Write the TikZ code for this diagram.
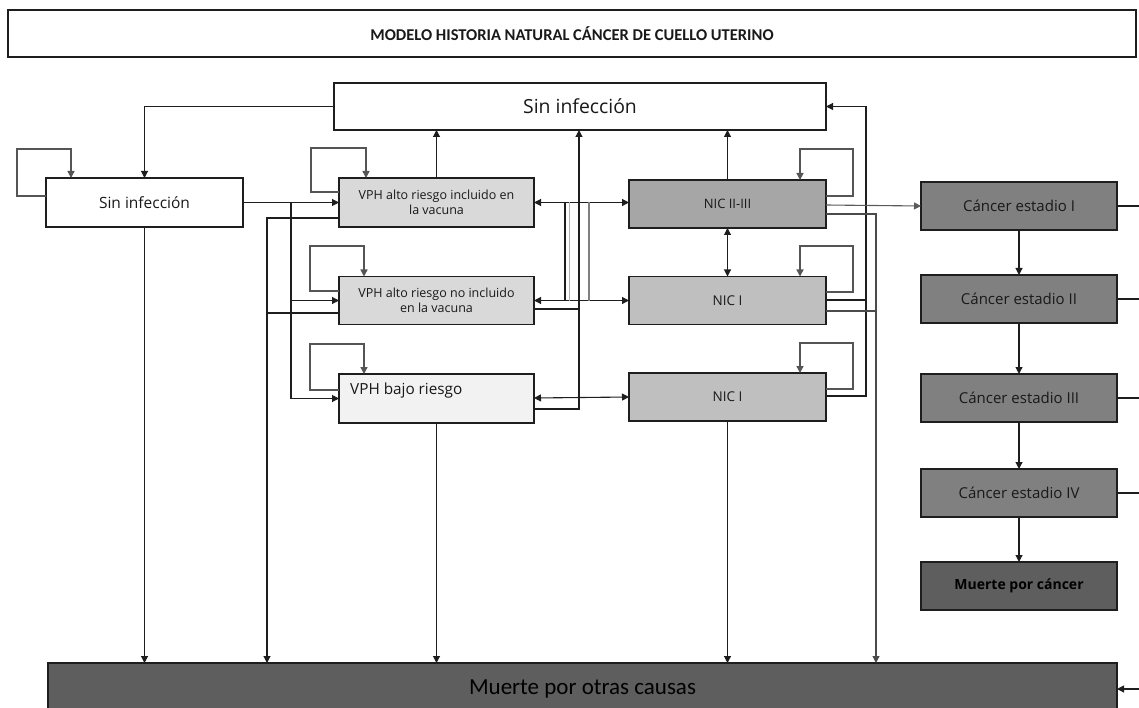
\documentclass[tikz,border=0pt]{standalone}
\usepackage{fontspec}
\setmainfont{Open Sans}
\newfontfamily\carlito{Carlito}
\usetikzlibrary{arrows.meta,calc}
\definecolor{lc}{HTML}{1E1E1E}
\definecolor{lpc}{HTML}{555555}
\definecolor{lgc}{HTML}{808080}
\definecolor{vphc}{HTML}{D9D9D9}
\definecolor{vphbc}{HTML}{F2F2F2}
\definecolor{nictc}{HTML}{A6A6A6}
\definecolor{nicoc}{HTML}{BFBFBF}
\definecolor{cc}{HTML}{808080}
\definecolor{mcc}{HTML}{5E5E5E}
\definecolor{moc}{HTML}{5E5E5E}
\tikzset{
  bx/.style={draw=lc, line width=1.2pt, inner sep=0pt, outer sep=0pt, minimum height=48pt, align=center, text=black!90},
  ln/.style={draw=lc, line width=1.1pt},
  arr/.style={ln, -{Triangle[length=7pt,width=7pt]}},
  arrr/.style={ln, {Triangle[length=7pt,width=7pt]}-{Triangle[length=7pt,width=7pt]}},
  lp/.style={draw=lpc, line width=1.4pt},
  lpa/.style={lp, -{Triangle[length=7pt,width=7pt]}},
}
\begin{document}
\begin{tikzpicture}[x=1pt,y=-1pt]
\useasboundingbox (0,0) rectangle (1139,708);
\clip (0,0) rectangle (1139,708);

% nodes
\node[bx, line width=1.5pt, minimum width=1128pt, minimum height=47pt, font=\carlito\bfseries\fontsize{16.5}{19}\selectfont] (title) at (572,33.5) {MODELO HISTORIA NATURAL CÁNCER DE CUELLO UTERINO};
\node[bx, minimum width=492pt, minimum height=47pt, font=\fontsize{19.4}{22}\selectfont] (top) at (580,106.5) {Sin infección};
\node[bx, minimum width=197pt, minimum height=49pt, font=\fontsize{15.5}{18}\selectfont] (lsin) at (144.5,202.5) {Sin infección};
\node[bx, fill=vphc, minimum width=195pt, minimum height=49pt, font=\fontsize{12.5}{15}\selectfont] (vph1) at (436.5,202.5) {VPH alto riesgo incluido en\\la vacuna};
\node[bx, fill=vphc, minimum width=195pt, font=\fontsize{12.5}{15}\selectfont] (vph2) at (436.5,300.5) {VPH alto riesgo no incluido\\en la vacuna};
\node[bx, fill=vphbc, minimum width=195pt, minimum height=49pt] (vphb) at (436.5,398.5) {};
\node[anchor=west, inner sep=0pt, text=black!90, font=\fontsize{15.3}{18}\selectfont] (vphbt) at (350,391) {VPH bajo riesgo};
\node[bx, fill=nictc, minimum width=197pt, font=\fontsize{13}{15}\selectfont] (nic23) at (727.5,204) {NIC II-III};
\node[bx, fill=nicoc, minimum width=197pt, font=\fontsize{13.5}{15}\selectfont] (nic1) at (727.5,300.5) {NIC I};
\node[bx, fill=nicoc, minimum width=197pt, font=\fontsize{13.5}{15}\selectfont] (nic1b) at (727.5,397) {NIC I};
\node[bx, fill=cc, minimum width=196pt, font=\fontsize{15}{18}\selectfont] (c1) at (1019,206) {Cáncer estadio I};
\node[bx, fill=cc, minimum width=196pt, font=\fontsize{15}{18}\selectfont] (c2) at (1019,299) {Cáncer estadio II};
\node[bx, fill=cc, minimum width=196pt, font=\fontsize{15}{18}\selectfont] (c3) at (1019,398) {Cáncer estadio III};
\node[bx, fill=cc, minimum width=196pt, font=\fontsize{15}{18}\selectfont] (c4) at (1019,493) {Cáncer estadio IV};
\node[bx, fill=mcc, minimum width=196pt, font=\bfseries\fontsize{14}{17}\selectfont, text=black] (mc) at (1019,586) {Muerte por cáncer};
\node[bx, fill=moc, minimum width=1069pt, minimum height=52pt, font=\carlito\fontsize{23}{26}\selectfont, text=black] (mo) at (582.5,689) {Muerte por otras causas};

% left Sin infeccion
\draw[arr] (top.west) -| (lsin.north);
\draw[lpa] (lsin.west |- 0,196) -- (17,196) |- (71,149) -- (71,0 |- lsin.north);
\draw[arr] (lsin.east) -- (vph1.west);
\coordinate (j1) at (291,202.5);
\draw[arr] (j1) |- (vphb.west);
\draw[arr] (j1 |- vph2.west) -- (vph2.west);
\draw[arr] (lsin.south) -- (lsin.south |- mo.north);

% VPH to death
\draw[arr] (vph1.west |- 0,218) -| (267,0 |- mo.north);
\draw[ln] (vph2.west |- 0,313) -- (267,313);
\draw[arr] (vphb.south) -- (vphb.south |- mo.north);

% VPH loops
\draw[lpa] (vph1.west |- 0,192) -- (311,192) |- (366,148) -- (366,0 |- vph1.north);
\draw[lpa] (vph2.west |- 0,291) -- (310,291) |- (364,246) -- (364,0 |- vph2.north);
\draw[lpa] (vphb.west |- 0,390) -- (310,390) |- (364,344) -- (364,0 |- vphb.north);

% VPH to top Sin infeccion
\draw[arr] (vph1.north) -- (vph1.north |- top.south);
\draw[arr] (vphb.east |- 0,409) -| (579,0 |- top.south);
\draw[ln] (vph2.east |- 0,309) -- (579,309);

% VPH <-> NIC
\draw[arrr] (vph1.east) -- (vph1.east -| nic23.west);
\draw[arrr] (vph2.east) -- (vph2.east -| nic1.west);
\draw[arrr] (vphb.east |- 0,398) -- (nic1b.west |- 0,397);
\draw[ln] (565,0 |- vph1.east) -- (565,0 |- vph2.east);
\draw[draw=lgc!60, line width=1pt] (569,0 |- vph1.east) -- (569,0 |- vph2.east);
\draw[draw=lgc, line width=1.3pt] (589,0 |- vph1.east) -- (589,0 |- vph2.east);

% NIC
\draw[arr] (nic23.north) -- (nic23.north |- top.south);
\draw[arrr] (nic23.south) -- (nic1.north);
\draw[arr] (nic1b.south) -- (nic1b.south |- mo.north);
\draw[lpa] (nic23.east |- 0,196) -- (853,196) |- (800,149) -- (800,0 |- nic23.north);
\draw[lpa] (nic1.east |- 0,292) -- (853,292) |- (800,246) -- (800,0 |- nic1.north);
\draw[lpa] (nic1b.east |- 0,389) -- (853,389) |- (800,343) -- (800,0 |- nic1b.north);

% NIC I back to top Sin infeccion
\draw[arr] (nic1b.east |- 0,396) -| (866,0 |- top.east) -- (top.east);
\draw[ln] (nic1.east |- 0,300) -- (866,300);

% NIC to death
\draw[arr, draw=lc!80] (nic23.east |- 0,214) -| (876,0 |- mo.north);
\draw[ln, draw=lc!80] (nic1.east |- 0,311) -- (876,311);

% NIC II-III to cancer
\draw[arr, draw=lgc!70!black] (nic23.east |- 0,205) -- (c1.west |- 0,206);

% cancer chain
\draw[arr] (c1.south) -- (c2.north);
\draw[arr] (c2.south) -- (c3.north);
\draw[arr] (c3.south) -- (c4.north);
\draw[arr] (c4.south) -- (mc.north);
\draw[ln] (c1.east) -- ++(25,0);
\draw[ln] (c2.east) -- ++(25,0);
\draw[ln] (c3.east) -- ++(25,0);
\draw[ln] (c4.east) -- ++(25,0);
\draw[arr] ([xshift=25pt]mo.east) -- (mo.east);
\end{tikzpicture}
\end{document}
